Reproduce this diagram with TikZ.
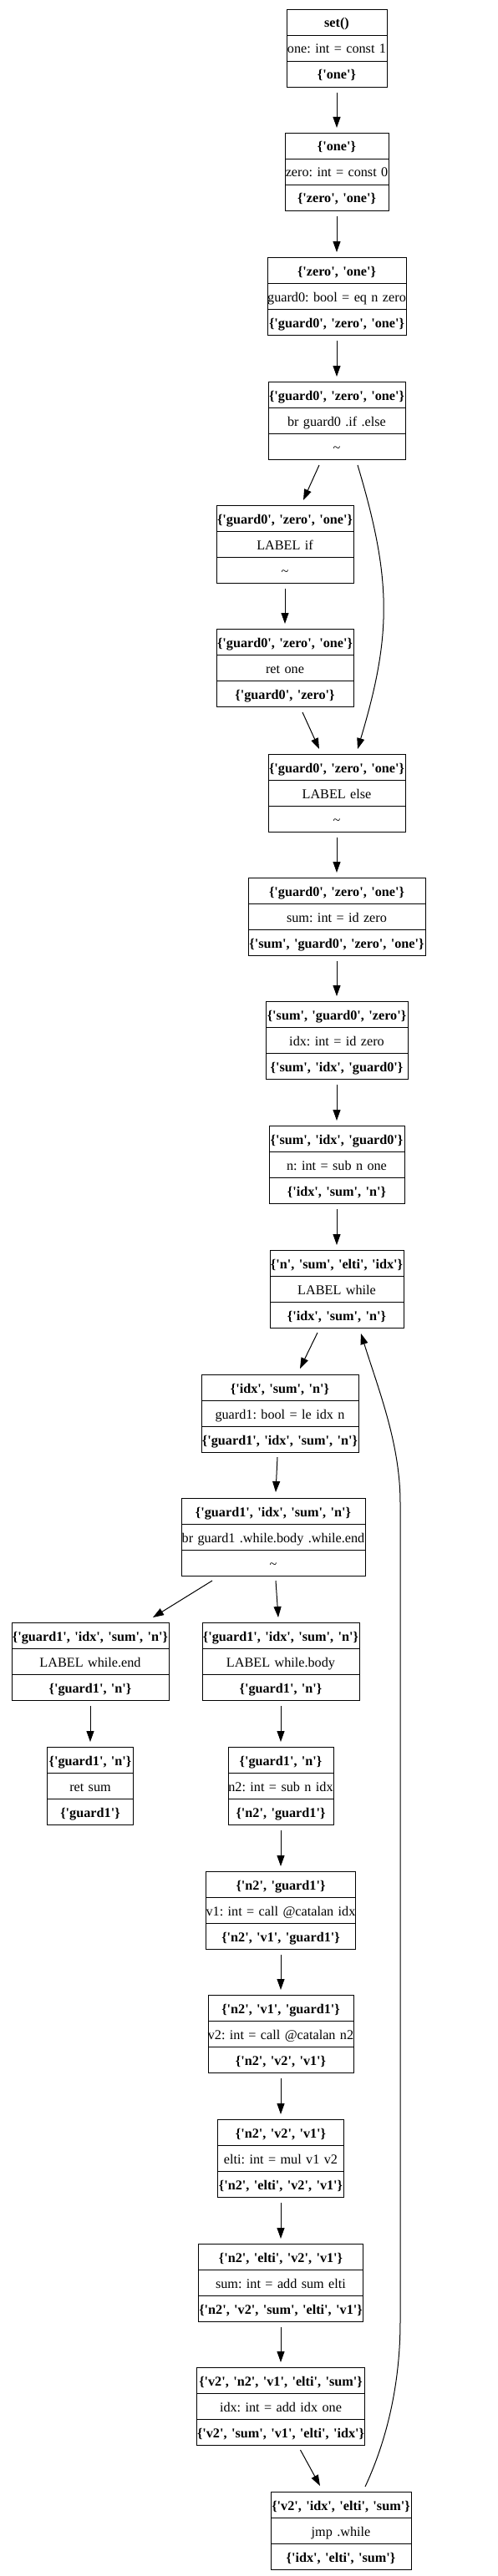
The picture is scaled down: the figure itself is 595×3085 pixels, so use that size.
\documentclass[tikz,border=0pt]{standalone}
\usepackage{fontspec}
\setmainfont{Liberation Serif}[Ligatures=TeXOff]
\usetikzlibrary{shapes.multipart,arrows.meta}
\frenchspacing
\newcommand{\rs}{\rule[-9pt]{0pt}{30pt}}
\newcommand{\cx}[1]{\rs\makebox[0pt][c]{#1}}
\tikzset{
  blk/.style={rectangle split, rectangle split parts=3, draw, line width=1pt,
    inner xsep=0pt, inner ysep=0pt, text width=#1, align=center,
    font=\fontsize{16.2pt}{19pt}\selectfont\frenchspacing},
  edge/.style={line width=1pt, -{Triangle[length=13pt,width=9pt]}}
}
\newcommand{\blk}[7]{\node[blk={#4pt}, anchor=north] (#1) at (#2pt,-#3pt)
  {\cx{\textbf{#5}}\nodepart{two}\cx{#6}\nodepart{three}\cx{\textbf{#7}}};}
\begin{document}
\begin{tikzpicture}
\useasboundingbox (0,0) rectangle (595pt,-3085pt);
\blk{n1}{403}{11}{120}{set()}{one: int = const 1}{\{'one'\}}
\blk{n2}{403}{159}{124}{\{'one'\}}{zero: int = const 0}{\{'zero', 'one'\}}
\blk{n3}{403}{308}{166}{\{'zero', 'one'\}}{guard0: bool = eq n zero}{\{'guard0', 'zero', 'one'\}}
\blk{n4}{403}{457}{164}{\{'guard0', 'zero', 'one'\}}{br guard0 .if .else}{\mdseries\textasciitilde}
\blk{n5}{341}{605}{164}{\{'guard0', 'zero', 'one'\}}{LABEL if}{\mdseries\textasciitilde}
\blk{n6}{341}{753}{164}{\{'guard0', 'zero', 'one'\}}{ret one}{\{'guard0', 'zero'\}}
\blk{n7}{403}{903}{164}{\{'guard0', 'zero', 'one'\}}{LABEL else}{\mdseries\textasciitilde}
\blk{n8}{403}{1051}{212}{\{'guard0', 'zero', 'one'\}}{sum: int = id zero}{\{'sum', 'guard0', 'zero', 'one'\}}
\blk{n9}{403}{1199}{170}{\{'sum', 'guard0', 'zero'\}}{idx: int = id zero}{\{'sum', 'idx', 'guard0'\}}
\blk{n10}{403}{1348}{162}{\{'sum', 'idx', 'guard0'\}}{n: int = sub n one}{\{'idx', 'sum', 'n'\}}
\blk{n11}{403}{1497}{160}{\{'n', 'sum', 'elti', 'idx'\}}{LABEL while}{\{'idx', 'sum', 'n'\}}
\blk{n12}{335}{1646}{188}{\{'idx', 'sum', 'n'\}}{guard1: bool = le idx n}{\{'guard1', 'idx', 'sum', 'n'\}}
\blk{n13}{327}{1794}{220}{\{'guard1', 'idx', 'sum', 'n'\}}{br guard1 .while.body .while.end}{\mdseries\textasciitilde}
\blk{n14}{108}{1943}{188}{\{'guard1', 'idx', 'sum', 'n'\}}{LABEL while.end}{\{'guard1', 'n'\}}
\blk{n15}{336}{1943}{188}{\{'guard1', 'idx', 'sum', 'n'\}}{LABEL while.body}{\{'guard1', 'n'\}}
\blk{n16}{108}{2092}{103}{\{'guard1', 'n'\}}{ret sum}{\{'guard1'\}}
\blk{n17}{336}{2092}{126}{\{'guard1', 'n'\}}{n2: int = sub n idx}{\{'n2', 'guard1'\}}
\blk{n18}{336}{2241}{179}{\{'n2', 'guard1'\}}{v1: int = call @catalan idx}{\{'n2', 'v1', 'guard1'\}}
\blk{n19}{336}{2389}{174}{\{'n2', 'v1', 'guard1'\}}{v2: int = call @catalan n2}{\{'n2', 'v2', 'v1'\}}
\blk{n20}{336}{2538}{151}{\{'n2', 'v2', 'v1'\}}{elti: int = mul v1 v2}{\{'n2', 'elti', 'v2', 'v1'\}}
\blk{n21}{336}{2687}{197}{\{'n2', 'elti', 'v2', 'v1'\}}{sum: int = add sum elti}{\{'n2', 'v2', 'sum', 'elti', 'v1'\}}
\blk{n22}{336}{2835}{201}{\{'v2', 'n2', 'v1', 'elti', 'sum'\}}{idx: int = add idx one}{\{'v2', 'sum', 'v1', 'elti', 'idx'\}}
\blk{n23}{408}{2984}{168}{\{'v2', 'idx', 'elti', 'sum'\}}{jmp .while}{\{'idx', 'elti', 'sum'\}}
% straight edges
\foreach \a/\b in {n1/n2,n2/n3,n3/n4,n5/n6,n7/n8,n8/n9,n9/n10,n10/n11,n14/n16,n15/n17,n17/n18,n18/n19,n19/n20,n20/n21,n21/n22}
  \draw[edge] ([yshift=-6pt]\a.south) -- ([yshift=6pt]\b.north);
% diagonal edges
\draw[edge] ([shift={(-21pt,-6pt)}]n4.south) -- ([shift={(22pt,6pt)}]n5.north);
\draw[edge] ([shift={(21pt,-6pt)}]n6.south) -- ([shift={(-21pt,6pt)}]n7.north);
\draw[edge] ([shift={(25pt,-6pt)}]n4.south) .. controls +(41pt,-137pt) and +(41pt,137pt) .. ([shift={(25pt,6pt)}]n7.north);
\draw[edge] ([shift={(-23pt,-5pt)}]n11.south) -- ([shift={(24pt,7pt)}]n12.north);
\draw[edge] ([shift={(-3pt,-5pt)}]n12.south) -- ([shift={(3pt,7pt)}]n13.north);
\draw[edge] ([shift={(-73pt,-5pt)}]n13.south) -- ([shift={(75pt,6pt)}]n14.north);
\draw[edge] ([shift={(3pt,-5pt)}]n13.south) -- ([shift={(-3pt,6pt)}]n15.north);
\draw[edge] ([shift={(23.5pt,-5pt)}]n22.south) -- ([shift={(-25pt,7pt)}]n23.north);
% back edge
\coordinate (b1) at (479pt,-2780pt);
\coordinate (b2) at (479pt,-1800pt);
\draw[edge] ([shift={(29pt,6pt)}]n23.north) .. controls +(28pt,60pt) and (479pt,-2850pt) .. (b1)
  -- (b2) .. controls (479pt,-1730pt) and +(22pt,-70pt) .. ([shift={(29pt,-6pt)}]n11.south);
\end{tikzpicture}
\end{document}
